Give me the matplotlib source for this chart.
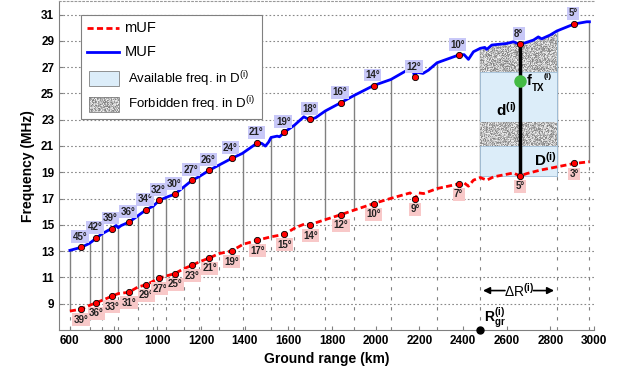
import numpy as np
import matplotlib
matplotlib.use('Agg')
import matplotlib.pyplot as plt
from matplotlib.patches import Rectangle, Polygon

plt.rcParams['font.family'] = ['Liberation Sans', 'DejaVu Sans']
plt.rcParams['mathtext.fontset'] = 'custom'
plt.rcParams['mathtext.rm'] = 'Liberation Sans'
plt.rcParams['mathtext.bf'] = 'Liberation Sans:bold'
plt.rcParams['mathtext.it'] = 'Liberation Sans:italic'

# ---------------- data ----------------
muf_x = [600, 652, 687, 700, 721, 748, 791, 812, 821, 835, 870, 908, 950, 981, 1010,
         1045, 1080, 1122, 1160, 1190, 1239, 1282, 1340, 1389, 1459, 1478, 1495, 1510,
         1521, 1549, 1560, 1582, 1628, 1671, 1685, 1701, 1725, 1770, 1839, 1902, 1991,
         2070, 2151, 2171, 2180, 2186, 2217, 2242, 2281, 2380, 2405, 2425, 2448, 2479,
         2500, 2509, 2532, 2601, 2631, 2660, 2685, 2723, 2745, 2760, 2799, 2830, 2909,
         2967, 2979]
muf_y = [13.06, 13.29, 13.57, 13.72, 14.0, 14.33, 14.72, 14.95, 14.78, 14.95, 15.2, 15.65,
         16.16, 16.42, 16.87, 17.12, 17.33, 17.89, 18.4, 18.65, 19.16, 19.54, 20.05, 20.43,
         21.24, 21.2, 20.99, 21.3, 21.65, 21.75, 21.7, 22.05, 22.58, 23.22, 23.1, 23.02,
         23.15, 23.67, 24.28, 24.85, 25.6, 26.06, 26.83, 26.72, 26.22, 26.62, 26.52, 26.77,
         27.33, 27.92, 27.95, 27.59, 28.17, 28.43, 28.5, 28.35, 28.68, 28.8, 28.93, 28.73,
         28.85, 29.06, 29.3, 29.15, 29.44, 29.75, 30.28, 30.45, 30.45]

muf_low_x = [600, 652, 691, 721, 748, 791, 821, 870, 911, 950, 980, 1010, 1041, 1080, 1122,
             1160, 1190, 1239, 1282, 1340, 1393, 1459, 1518, 1582, 1633, 1680, 1699, 1715,
             1770, 1842, 1899, 1991, 2067, 2158, 2180, 2197, 2220, 2281, 2380, 2405, 2425,
             2448, 2479, 2509, 2540, 2631, 2660, 2692, 2753, 2830, 2909, 2979]
muf_low_y = [8.44, 8.59, 8.88, 9.08, 9.26, 9.56, 9.77, 9.87, 10.27, 10.45, 10.7, 10.95, 11.11,
             11.29, 11.67, 11.92, 12.17, 12.48, 12.81, 13.01, 13.52, 13.83, 14.08, 14.28,
             14.79, 15.1, 14.97, 15.1, 15.4, 15.78, 16.11, 16.62, 17.0, 17.43, 17.0, 17.43,
             17.38, 17.76, 18.11, 18.2, 17.94, 18.4, 18.6, 18.4, 18.65, 18.95, 18.72, 18.9,
             19.16, 19.41, 19.67, 19.8]

pt_x = [652, 721, 791, 870, 950, 1010, 1080, 1160, 1239, 1340, 1459, 1582, 1701, 1842,
        1991, 2180, 2380, 2660, 2909]
muf_pt = [13.29, 14.0, 14.72, 15.2, 16.16, 16.87, 17.33, 18.4, 19.16, 20.05, 21.24, 22.05,
          23.02, 24.28, 25.6, 26.22, 27.92, 28.73, 30.28]
muf_ang = [45, 42, 39, 36, 34, 32, 30, 27, 26, 24, 21, 19, 18, 16, 14, 12, 10, 8, 5]
low_pt = [8.59, 9.08, 9.56, 9.87, 10.45, 10.95, 11.29, 11.92, 12.48, 13.01, 13.83, 14.28,
          14.97, 15.78, 16.62, 17.0, 18.11, 18.72, 19.67]
low_ang = [39, 36, 33, 31, 29, 27, 25, 23, 21, 19, 17, 15, 14, 12, 10, 9, 7, 5, 3]

bounds = [600, 691, 748, 821, 911, 980, 1041, 1122, 1190, 1282, 1393, 1521, 1628, 1770,
          1902, 2070, 2281, 2479, 2830, 2979]

# D region
d_x0, d_x1 = 2479, 2830
d_low, d_high = 18.72, 28.73
avail_bands = [(18.72, 20.98), (22.84, 26.64)]
forb_band = (20.98, 22.84)
forb_top_start = 26.64
ftx_x, ftx_y = 2660, 25.94

xticks = list(range(600, 3001, 200))
yticks = list(range(9, 32, 2))

# ---------------- figure ----------------
fig = plt.figure(figsize=(6.19, 3.69), dpi=100)
ax = fig.add_axes([59/619, 1-330/369, (594-59)/619, (330-1.4)/369])
ax.set_xlim(550, 3000)
ax.set_ylim(7, 32)

for y in yticks:
    ax.axhline(y, color='#888888', lw=0.8, ls=(0, (1.5, 2)), zorder=0)

def texture(h, w):
    i, j = np.mgrid[0:h, 0:w]
    v = np.sin(i * 12.9898 + j * 78.233) * 43758.5453
    v = v - np.floor(v)
    return 0.5 + 0.45 * v

# drop lines
for b in bounds:
    lo = np.interp(b, muf_low_x, muf_low_y)
    hi = np.interp(b, muf_x, muf_y)
    ax.plot([b, b], [lo, hi], color='#808080', lw=1.0, zorder=1)
    ax.plot([b, b], [7, lo], color='#808080', lw=0.8, ls=(0, (3, 6)), zorder=1)

# available bands
for (a, b) in avail_bands:
    ax.add_patch(Rectangle((d_x0, a), d_x1 - d_x0, b - a, facecolor='#dcedf9',
                           edgecolor='#9fbdd6', lw=0.6, zorder=2))
# forbidden middle band
r = Rectangle((d_x0, forb_band[0]), d_x1 - d_x0, forb_band[1] - forb_band[0],
              facecolor='none', edgecolor='none', zorder=2)
ax.add_patch(r)
im = ax.imshow(texture(30, 160), extent=[d_x0, d_x1, forb_band[0], forb_band[1]],
               cmap='gray', vmin=0, vmax=1, aspect='auto', interpolation='nearest', zorder=2)
im.set_clip_path(r)
# forbidden top band following MUF
mx = np.array(muf_x); my = np.array(muf_y)
sel = (mx > d_x0) & (mx < d_x1)
top_pts = [(d_x0, forb_top_start), (d_x0, np.interp(d_x0, muf_x, muf_y))]
top_pts += list(zip(mx[sel], my[sel]))
top_pts += [(d_x1, np.interp(d_x1, muf_x, muf_y)), (d_x1, forb_top_start)]
poly = Polygon(top_pts, closed=True, facecolor='none', edgecolor='none', zorder=2)
ax.add_patch(poly)
im2 = ax.imshow(texture(60, 160), extent=[d_x0, d_x1, forb_top_start, 29.9],
                cmap='gray', vmin=0, vmax=1, aspect='auto', interpolation='nearest', zorder=2)
im2.set_clip_path(poly)
ax.plot([d_x1, d_x1], [d_low, np.interp(d_x1, muf_x, muf_y)], color='#9fbdd6', lw=0.6, zorder=2)

# curves
ax.plot(muf_x, muf_y, color='#0000ff', lw=2, zorder=4)
ax.plot(muf_low_x, muf_low_y, color='#ff0000', lw=2, ls=(0, (2.2, 1.2)), zorder=4)

# d line
ax.plot([ftx_x, ftx_x], [d_low, d_high], color='black', lw=2.5, zorder=5)
ax.plot(ftx_x, ftx_y, 'o', color='#44bb44', ms=8, zorder=6)

# points
ax.plot(pt_x, muf_pt, 'o', color='#ff0000', mec='black', mew=0.6, ms=4.5, zorder=6)
ax.plot(pt_x, low_pt, 'o', color='#ff0000', mec='black', mew=0.6, ms=4.5, zorder=6)

for x, y, a in zip(pt_x, muf_pt, muf_ang):
    ax.text(x - 5, y + 0.8, f'{a}°', ha='center', va='center', fontsize=7, fontweight='bold',
            color='#222222', zorder=7,
            bbox=dict(boxstyle='square,pad=0.15', fc='#c8c8f8', ec='none'))
for x, y, a in zip(pt_x, low_pt, low_ang):
    ax.text(x, y - 0.8, f'{a}°', ha='center', va='center', fontsize=7, fontweight='bold',
            color='#222222', zorder=7,
            bbox=dict(boxstyle='square,pad=0.15', fc='#f8c8c8', ec='none'))

# annotations
ax.text(2693, 25.94, 'f', fontsize=10.5, fontweight='bold', ha='left', va='center', zorder=7)
ax.text(2745, 25.42, 'TX', fontsize=7, fontweight='bold', ha='center', va='center', zorder=7)
ax.text(2786, 26.25, '(i)', fontsize=6, fontweight='bold', ha='center', va='center', zorder=7)
ax.text(2601, 23.73, r'$\mathbf{d}^{\mathbf{(i)}}$', fontsize=11, ha='center', va='center', zorder=7)
ax.text(2776, 19.92, r'$\mathbf{D}^{\mathbf{(i)}}$', fontsize=11, ha='center', va='center', zorder=7)

ax.annotate('', xy=(d_x0, 10.0), xytext=(2605, 10.0),
            arrowprops=dict(arrowstyle='-|>', color='black', lw=1.2, mutation_scale=10))
ax.annotate('', xy=(d_x1, 10.0), xytext=(2710, 10.0),
            arrowprops=dict(arrowstyle='-|>', color='black', lw=1.2, mutation_scale=10))
ax.text(2657, 10.0, r'$\Delta\mathrm{R}^{\mathbf{(i)}}$', fontsize=10, ha='center', va='center')

ax.plot(d_x0, 7, 'o', color='black', ms=5, clip_on=False, zorder=8)
ax.text(2494, 7.95, r'$\mathbf{R}_{\mathbf{gr}}^{\mathbf{(i)}}$', fontsize=10, ha='left', va='center')

# legend (drawn manually)
ax.add_patch(Rectangle((652, 23.09), 828, 7.87, facecolor='white', edgecolor='#808080',
                       lw=0.8, zorder=9))
ax.plot([680, 824], [29.95, 29.95], color='#ff0000', lw=2, ls=(0, (2.2, 1.2)), zorder=10)
ax.text(850, 29.95, 'mUF', fontsize=10.5, va='center', ha='left', zorder=10)
ax.plot([680, 824], [28.17, 28.17], color='#0000ff', lw=2, zorder=10)
ax.text(850, 28.17, 'MUF', fontsize=10.5, va='center', ha='left', zorder=10)
ax.add_patch(Rectangle((687, 25.55), 137, 1.15, facecolor='#dcedf9', edgecolor='#808080',
                       lw=0.6, zorder=10))
ax.text(867, 26.09, r'Available freq. in D$^{\mathrm{(i)}}$', fontsize=9.5, va='center', ha='left', zorder=10)
lr = Rectangle((687, 23.6), 137, 1.14, facecolor='none', edgecolor='#808080', lw=0.6, zorder=11)
ax.add_patch(lr)
im3 = ax.imshow(texture(16, 40), extent=[687, 824, 23.6, 24.74], cmap='gray', vmin=0, vmax=1,
                aspect='auto', interpolation='nearest', zorder=10)
im3.set_clip_path(lr)
ax.text(867, 24.18, r'Forbidden freq. in D$^{\mathrm{(i)}}$', fontsize=9.5, va='center', ha='left', zorder=10)

ax.set_xlim(550, 3000)
ax.set_ylim(7, 32)
ax.set_xticks(xticks)
ax.set_yticks(yticks)
ax.tick_params(direction='in', length=3, labelsize=8.5, color='#808080')
for lab in ax.get_xticklabels() + ax.get_yticklabels():
    lab.set_fontweight('bold')
ax.set_xlabel('Ground range (km)', fontsize=10, fontweight='bold', labelpad=4)
ax.set_ylabel('Frequency (MHz)', fontsize=10, fontweight='bold', labelpad=4)
ax.spines['right'].set_visible(False)
ax.spines['top'].set_linestyle((0, (1.5, 2)))
ax.spines['top'].set_color('#999999')
ax.spines['left'].set_color('#808080')
ax.spines['bottom'].set_color('#808080')

fig.savefig('out.png', dpi=100)
